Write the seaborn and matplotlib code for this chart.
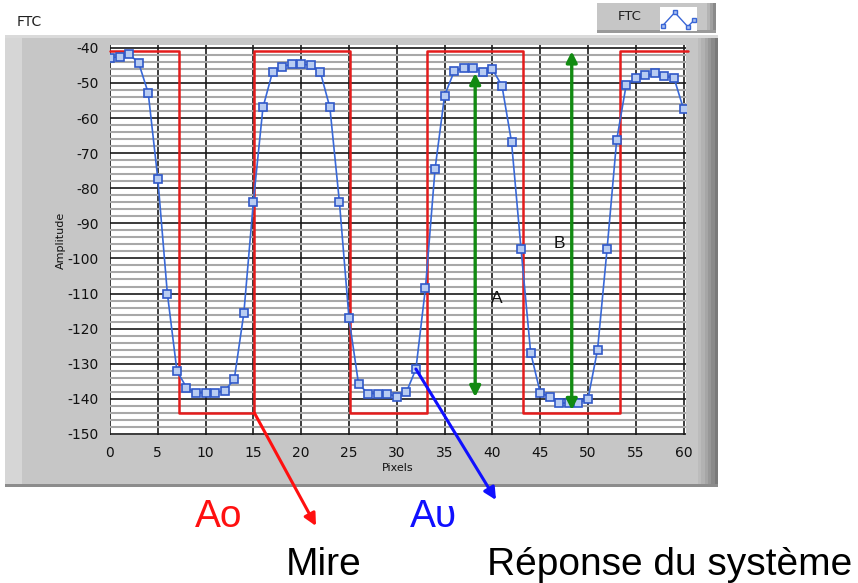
import matplotlib
matplotlib.use("Agg")
import matplotlib.pyplot as plt
from matplotlib.patches import Rectangle
from matplotlib.ticker import NullLocator, MultipleLocator
import seaborn as sns
import pandas as pd

# sampled system response (Pixels -> Amplitude)
pixels = list(range(61))
amplitude = [-42.8, -42.6, -41.8, -44.3, -52.9, -77.3, -110.0, -132.0, -136.8, -138.3,
             -138.3, -138.2, -137.7, -134.4, -115.6, -83.8, -57.0, -46.9, -45.4, -44.6,
             -44.6, -45.0, -46.9, -57.0, -84.0, -117.0, -135.8, -138.5, -138.5, -138.5,
             -139.4, -138.1, -131.5, -108.4, -74.6, -53.6, -46.7, -45.8, -45.8, -46.9,
             -46.1, -50.8, -66.8, -97.4, -126.8, -138.2, -139.5, -141.2, -141.2, -141.2,
             -140.0, -126.0, -97.2, -66.3, -50.5, -48.6, -47.8, -47.3, -48.1, -48.6,
             -57.5]

# square test pattern (mire)
mire_x = [0, 7.2, 15.1, 25.1, 33.2, 43.2, 53.3, 60.5]
mire_y = [-41, -144, -41, -144, -41, -144, -41, -41]

# amplitude arrows A and B
arrow_x = [38.2, 48.3]
arrow_top = [-47.2, -41.0]
arrow_bottom = [-139.5, -143.2]
arrow_labels = ["A", "B"]
label_x = [40.5, 47.0]
label_y = [-111.3, -95.7]

xticks = list(range(0, 61, 5))
yticks = list(range(-150, -39, 10))

df = pd.DataFrame({"Pixels": pixels, "Amplitude": amplitude})
mire = pd.DataFrame({"x": mire_x, "y": mire_y})

sns.set_style("white")
plt.rcParams["font.family"] = ["DejaVu Sans"]
plt.rcParams["axes.unicode_minus"] = False

W, H = 858, 583
fig = plt.figure(figsize=(W / 100, H / 100), dpi=100)


def box(x0, y0, x1, y1, color, z=0):
    # rectangle given in top-left pixel coordinates
    fig.add_artist(Rectangle((x0 / W, 1 - y1 / H), (x1 - x0) / W, (y1 - y0) / H,
                             transform=fig.transFigure, facecolor=color,
                             edgecolor="none", zorder=z))


# LabVIEW-like grey panel
box(5, 35, 718, 487, "#c6c6c6")
box(5, 35, 22, 487, "#d6d6d6")
for i, c in enumerate(["#bcbcbc", "#b2b2b2", "#a6a6a6", "#989898", "#8a8a8a", "#7a7a7a"]):
    box(698 + i * 3.3, 35, 718, 487, c)
box(5, 35, 718, 38, "#dadada")
box(5, 484, 718, 487, "#8c8c8c")

# legend box
box(597, 3, 716, 33, "#c6c6c6")
for i, c in enumerate(["#b4b4b4", "#a0a0a0", "#8a8a8a"]):
    box(707 + i * 3, 3, 716, 33, c)
box(597, 30, 716, 33, "#9a9a9a")
fig.text(630 / W, 1 - 17 / H, "FTC", ha="center", va="center", fontsize=9.5, color="#202020")
icon = fig.add_axes([660 / W, 1 - 31 / H, 37 / W, 24 / H])
icon.set_zorder(3)
icon.set_facecolor("white")
icon.plot([0.3, 1.6, 3.0, 3.7], [0.25, 0.85, 0.2, 0.5], color="#3a66d6", lw=1,
          marker="s", ms=3.5, mfc="#a8c0f0", mec="#3a66d6")
icon.set_xlim(0, 4)
icon.set_ylim(0, 1.1)
icon.set_xticks([])
icon.set_yticks([])
for s in icon.spines.values():
    s.set_visible(False)

fig.text(17 / W, 1 - 22 / H, "FTC", ha="left", va="center", fontsize=10, color="#202020")

ax = fig.add_axes([110 / W, 1 - 435 / H, 575.5 / W, 390 / H])
ax.set_facecolor("white")
ax.set_xlim(0, 60.2)
ax.set_ylim(-150.3, -39.2)

# grid: black majors, grey horizontal minors every 2 units
ax.set_xticks(xticks)
ax.set_yticks(yticks)
ax.xaxis.set_minor_locator(NullLocator())
ax.yaxis.set_minor_locator(MultipleLocator(2))
ax.grid(False)
ax.yaxis.grid(True, which="minor", color="#a8a8a8", lw=1.5, zorder=0)
ax.yaxis.grid(True, which="major", color="#1a1a1a", lw=1.2, zorder=0.5)
ax.xaxis.grid(True, which="major", color="#1a1a1a", lw=1.2, zorder=0.5)
ax.set_axisbelow(True)

sns.lineplot(data=mire, x="x", y="y", ax=ax, drawstyle="steps-post", color="#e41c1c",
             lw=1.8, estimator=None, sort=False, zorder=2, clip_on=False)
sns.lineplot(data=df, x="Pixels", y="Amplitude", ax=ax, color="#3868d8", lw=1.2,
             marker="s", markersize=5.5, markerfacecolor="#b8ccf2",
             markeredgecolor="#3058c8", markeredgewidth=1.2, estimator=None, zorder=3)

for xa, yt, yb in zip(arrow_x, arrow_top, arrow_bottom):
    ax.annotate("", xy=(xa, yt), xytext=(xa, yb),
                arrowprops=dict(arrowstyle="<|-|>", color="#118a11", lw=2.4,
                                mutation_scale=16, shrinkA=0, shrinkB=0), zorder=4)
for lx, ly, t in zip(label_x, label_y, arrow_labels):
    ax.text(lx, ly, t, ha="center", va="center", fontsize=12.5,
            family="Liberation Sans", color="#111111", zorder=5)

ax.tick_params(axis="both", which="major", length=5, width=1.2, color="#1a1a1a",
               labelsize=10, labelcolor="#111111", pad=3)
ax.tick_params(axis="both", which="minor", length=0)
ax.set_xlabel("Pixels", fontsize=8, labelpad=2, color="#111111")
ax.set_ylabel("Amplitude", fontsize=8, labelpad=1, color="#111111")
for s in ax.spines.values():
    s.set_visible(False)

# arrows leaving the chart towards the captions
ax.annotate("", xy=(316, H - 526), xycoords="figure pixels", xytext=(15.1, -144),
            textcoords="data", annotation_clip=False,
            arrowprops=dict(arrowstyle="-|>", color="#ff1010", lw=2.2,
                            mutation_scale=18, shrinkA=0, shrinkB=0), zorder=6)
ax.annotate("", xy=(496, H - 500), xycoords="figure pixels", xytext=(32, -131.5),
            textcoords="data", annotation_clip=False,
            arrowprops=dict(arrowstyle="-|>", color="#1010ff", lw=2.2,
                            mutation_scale=18, shrinkA=0, shrinkB=0), zorder=6)

cap = dict(family=["Liberation Sans", "DejaVu Sans"], fontsize=28, va="baseline", ha="left")
fig.text(195 / W, 1 - 527 / H, "Ao", color="#ff1010", **cap)
fig.text(410 / W, 1 - 527 / H, "A\u03c5", color="#1010ff", **cap)
fig.text(286 / W, 1 - 575 / H, "Mire", color="black", **cap)
fig.text(487 / W, 1 - 575 / H, "Réponse du système", color="black", **cap)

fig.savefig("out.png", dpi=100)
